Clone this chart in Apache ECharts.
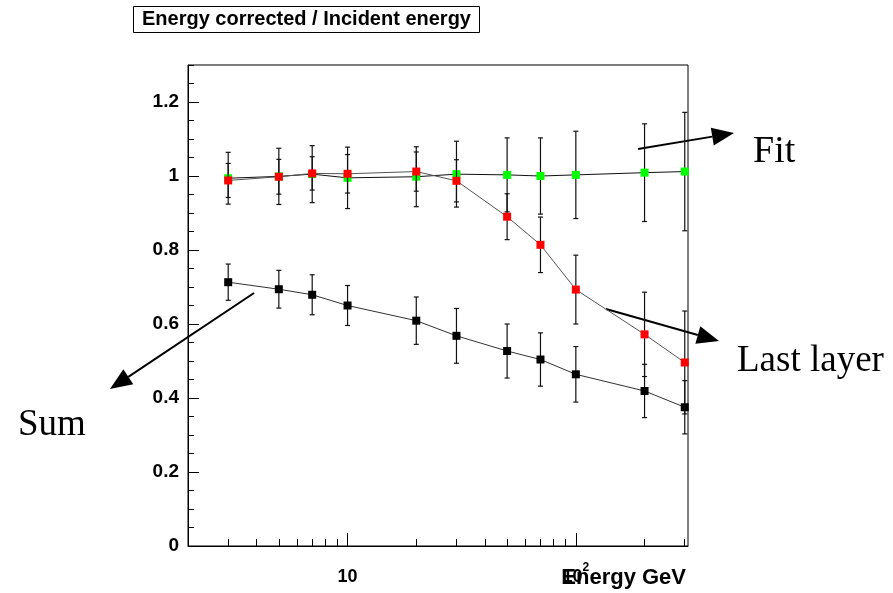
<!DOCTYPE html>
<html>
<head>
<meta charset="UTF-8">
<script src="https://cdn.jsdelivr.net/npm/echarts@6/dist/echarts.min.js"></script>
<style>
  body { margin: 0; background: #fff; }
  #main { width: 893px; height: 593px; }
</style>
<title>Energy corrected / Incident energy</title>
</head>
<body>
<div id="main"></div>
<script type="text/javascript">
// beam energies (GeV)
var energies = [3, 5, 7, 10, 20, 30, 50, 70, 100, 200, 300];
// Fit (green)
var fitVals = [0.994, 0.999, 1.005, 0.995, 0.998, 1.005, 1.003, 1.000, 1.003, 1.009, 1.012];
var fitErr  = [0.070, 0.076, 0.077, 0.083, 0.081, 0.089, 0.100, 0.103, 0.118, 0.132, 0.160];
// Last layer (red)
var lastVals = [0.988, 0.998, 1.007, 1.006, 1.012, 0.987, 0.890, 0.814, 0.693, 0.572, 0.496];
var lastErr  = [0.046, 0.047, 0.045, 0.052, 0.053, 0.057, 0.062, 0.075, 0.093, 0.114, 0.139];
// Sum (black)
var sumVals = [0.713, 0.694, 0.679, 0.650, 0.609, 0.568, 0.527, 0.504, 0.464, 0.419, 0.375];
var sumErr  = [0.049, 0.051, 0.054, 0.054, 0.064, 0.074, 0.073, 0.072, 0.075, 0.072, 0.072];

var xMin = 2, xMax = 310;
var xMajorTicks = [10, 100];
var xMinorTicks = [3, 4, 5, 6, 7, 8, 9, 20, 30, 40, 50, 60, 70, 80, 90, 200, 300];

var myChart = echarts.init(document.getElementById('main'));

function pts(vals) {
  var out = [];
  for (var i = 0; i < energies.length; i++) out.push([energies[i], vals[i]]);
  return out;
}
function errs(vals, e) {
  var out = [];
  for (var i = 0; i < energies.length; i++) out.push([energies[i], vals[i] - e[i], vals[i] + e[i]]);
  return out;
}
function lg(v) { return Math.log(v) / Math.LN10; }

function errRender(params, api) {
  var x = api.value(0);
  var p1 = api.coord([x, api.value(1)]);
  var p2 = api.coord([x, api.value(2)]);
  var w = 2.5;
  var st = { stroke: '#111', lineWidth: 1.2 };
  return {
    type: 'group',
    children: [
      { type: 'line', shape: { x1: p1[0], y1: p1[1], x2: p2[0], y2: p2[1] }, style: st },
      { type: 'line', shape: { x1: p1[0] - w, y1: p1[1], x2: p1[0] + w, y2: p1[1] }, style: st },
      { type: 'line', shape: { x1: p2[0] - w, y1: p2[1], x2: p2[0] + w, y2: p2[1] }, style: st }
    ]
  };
}

// annotation arrow: shaft + filled head
function arrow(x1, y1, x2, y2) {
  var dx = x2 - x1, dy = y2 - y1;
  var len = Math.sqrt(dx * dx + dy * dy);
  var ux = dx / len, uy = dy / len;
  var hl = 22, hw = 9;
  var bx = x2 - ux * hl, by = y2 - uy * hl;
  return {
    type: 'group',
    children: [
      { type: 'line', shape: { x1: x1, y1: y1, x2: bx, y2: by }, style: { stroke: '#000', lineWidth: 2 } },
      { type: 'polygon', shape: { points: [[x2, y2], [bx - uy * hw, by + ux * hw], [bx + uy * hw, by - ux * hw]] },
        style: { fill: '#000' } }
    ]
  };
}

var sansB = { fontFamily: 'Liberation Sans, Arial', fontWeight: 'bold', color: '#000' };
var serif = 'Liberation Serif, Times New Roman, serif';

var option = {
  animation: false,
  backgroundColor: '#fff',
  title: {
    text: 'Energy corrected / Incident energy',
    left: 133, top: 6,
    padding: [3, 9, 4, 9],
    borderColor: '#000', borderWidth: 1,
    backgroundColor: '#fff',
    textStyle: { fontFamily: 'Liberation Sans, Arial', fontWeight: 'bold', fontSize: 20, color: '#000' }
  },
  grid: { left: 188, right: 205, top: 65, bottom: 47, show: true, borderColor: '#000', borderWidth: 1, backgroundColor: '#fff' },
  xAxis: [
    {
      type: 'log', logBase: 10, min: xMin, max: xMax,
      axisLine: { lineStyle: { color: '#000' } },
      axisTick: { show: false }, axisLabel: { show: false }, splitLine: { show: false }
    },
    {
      type: 'value', min: lg(xMin), max: lg(xMax), position: 'bottom',
      axisLine: { show: false }, splitLine: { show: false },
      axisTick: { inside: true, length: 7, lineStyle: { color: '#000' }, customValues: xMinorTicks.map(lg) },
      axisLabel: { show: false }
    },
    {
      type: 'value', min: lg(xMin), max: lg(xMax), position: 'bottom',
      axisLine: { show: false }, splitLine: { show: false },
      axisTick: { inside: true, length: 13, lineStyle: { color: '#000' }, customValues: xMajorTicks.map(lg) },
      axisLabel: {
        customValues: xMajorTicks.map(lg), margin: 16,
        fontFamily: 'Liberation Sans, Arial', fontWeight: 'bold', fontSize: 18, color: '#000',
        formatter: function (v) { return Math.round(v) === 1 ? '{a|10}' : '{a|10}{s|2}'; },
        rich: {
          a: { fontFamily: 'Liberation Sans, Arial', fontWeight: 'bold', fontSize: 18, lineHeight: 30, color: '#000' },
          s: { fontFamily: 'Liberation Sans, Arial', fontWeight: 'bold', fontSize: 12, lineHeight: 12, verticalAlign: 'top', color: '#000' }
        }
      }
    }
  ],
  yAxis: [
    {
      type: 'value', min: 0, max: 1.3, interval: 0.2,
      axisLine: { show: true, lineStyle: { color: '#000' } }, splitLine: { show: false },
      axisTick: { show: true, inside: true, length: 11, lineStyle: { color: '#000' } },
      axisLabel: Object.assign({ fontSize: 19, margin: 9, showMaxLabel: false }, sansB)
    },
    {
      type: 'value', min: 0, max: 1.3, interval: 0.05, position: 'left',
      axisLine: { show: false }, splitLine: { show: false },
      axisTick: { show: true, inside: true, length: 6, lineStyle: { color: '#000' } },
      axisLabel: { show: false }
    }
  ],
  series: [
    { type: 'custom', renderItem: errRender, data: errs(sumVals, sumErr), encode: { x: 0, y: [1, 2] }, z: 1 },
    { type: 'line', data: pts(sumVals), symbol: 'rect', symbolSize: 8, z: 2,
      itemStyle: { color: '#000' }, lineStyle: { color: '#333', width: 1 } },
    { type: 'custom', renderItem: errRender, data: errs(fitVals, fitErr), encode: { x: 0, y: [1, 2] }, z: 3 },
    { type: 'line', data: pts(fitVals), symbol: 'rect', symbolSize: 8, z: 4,
      itemStyle: { color: '#00ff00' }, lineStyle: { color: '#111', width: 1 } },
    { type: 'custom', renderItem: errRender, data: errs(lastVals, lastErr), encode: { x: 0, y: [1, 2] }, z: 5 },
    { type: 'line', data: pts(lastVals), symbol: 'rect', symbolSize: 8, z: 6,
      itemStyle: { color: '#ff0000' }, lineStyle: { color: '#555', width: 1 } }
  ],
  graphic: [
    arrow(638, 149, 734, 133),
    arrow(606, 309, 719, 341),
    arrow(254, 293, 110, 389),
    { type: 'text', right: 207, top: 567, style: { text: 'Energy GeV', font: 'bold 22px Liberation Sans, Arial', fill: '#000' } },
    { type: 'text', left: 753, top: 133, style: { text: 'Fit', font: '38px ' + serif, fill: '#000' } },
    { type: 'text', left: 737, top: 343, style: { text: 'Last layer', font: '37px ' + serif, fill: '#000' } },
    { type: 'text', left: 18, top: 407, style: { text: 'Sum', font: '37px ' + serif, fill: '#000' } }
  ]
};
myChart.setOption(option);
</script>
</body>
</html>
